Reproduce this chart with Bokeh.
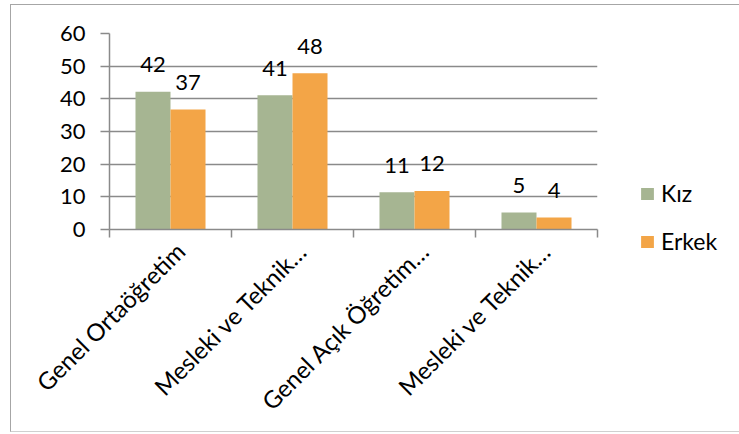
import numpy as np
from bokeh.plotting import figure
from bokeh.models import Range1d, FixedTicker, Legend, LegendItem, ColumnDataSource
from bokeh.core.properties import value
from bokeh.embed import file_html
from bokeh.resources import INLINE

categories = ["Genel Ortaöğretim", "Mesleki ve Teknik…", "Genel Açık Öğretim…", "Mesleki ve Teknik…"]
series_names = ["Kız", "Erkek"]
kiz = [42.2, 41.1, 11.4, 5.2]
erkek = [36.7, 47.8, 11.8, 3.7]
y_ticks = [0, 10, 20, 30, 40, 50, 60]

FONT = "Lato"
FS = "22px"
GREEN = "#A6B592"
ORANGE = "#F3A547"
GRID = "#8A8A8A"
BORDER = "#A6A6A6"

n = len(categories)
centers = np.arange(n) + 0.5
bw = 0.287
label_shift = 0.08  # small rightward nudge of the rotated category labels

p = figure(frame_width=488, frame_height=196, output_backend="svg", toolbar_location=None,
           x_range=Range1d(0, n), y_range=Range1d(0, 60),
           min_border_left=98, min_border_right=141, min_border_top=28, min_border_bottom=202)
p.outline_line_color = None
p.styles = {"margin-left": "10px", "margin-top": "4px",
            "border-left": f"1.5px solid {BORDER}", "border-top": f"1.5px solid {BORDER}",
            "border-bottom": "1.5px solid #D0D0D0"}

src_k = ColumnDataSource(dict(x=centers - bw / 2, top=kiz, lbl=[str(int(round(v))) for v in kiz]))
src_e = ColumnDataSource(dict(x=centers + bw / 2, top=erkek, lbl=[str(int(round(v))) for v in erkek]))

rk = p.vbar(x="x", top="top", width=bw, source=src_k, fill_color=GREEN, line_color=None)
re_ = p.vbar(x="x", top="top", width=bw, source=src_e, fill_color=ORANGE, line_color=None)

for src in (src_k, src_e):
    p.text(x="x", y="top", text="lbl", source=src, text_align="center", text_baseline="alphabetic",
           y_offset=-27, text_font=value(FONT), text_font_size=FS, text_color="black")

# axes
label_pos = [float(c + label_shift) for c in centers]
xa = p.xaxis[0]
xa.ticker = FixedTicker(ticks=label_pos, minor_ticks=list(range(n + 1)))
xa.major_label_overrides = {pos: lab for pos, lab in zip(label_pos, categories)}
xa.major_tick_out = 0
xa.major_tick_in = 0
xa.minor_tick_out = 8
xa.minor_tick_in = 0
xa.minor_tick_line_color = GRID
xa.minor_tick_line_width = 1.5
xa.axis_line_color = GRID
xa.axis_line_width = 1.5
xa.major_label_orientation = np.pi / 4
xa.major_label_text_font = FONT
xa.major_label_text_font_size = "24px"
xa.major_label_text_color = "black"
xa.major_label_standoff = 9

ya = p.yaxis[0]
ya.ticker = FixedTicker(ticks=y_ticks)
ya.major_tick_out = 9
ya.major_tick_in = 0
ya.major_tick_line_color = GRID
ya.major_tick_line_width = 1.5
ya.minor_tick_line_color = None
ya.axis_line_color = GRID
ya.axis_line_width = 1.5
ya.major_label_text_font = FONT
ya.major_label_text_font_size = FS
ya.major_label_text_color = "black"
ya.major_label_standoff = 15

p.xgrid.grid_line_color = None
p.ygrid.ticker = FixedTicker(ticks=y_ticks)
p.ygrid.grid_line_color = GRID
p.ygrid.grid_line_width = 1.5

legend = Legend(items=[LegendItem(label=series_names[0], renderers=[rk]),
                       LegendItem(label=series_names[1], renderers=[re_])],
                location=(42, -26), orientation="vertical")
legend.padding = 0
legend.margin = 0
legend.border_line_color = None
legend.background_fill_alpha = 0
legend.glyph_width = 16
legend.glyph_height = 15
legend.label_height = 15
legend.spacing = 20
legend.label_standoff = 6
legend.label_text_font = FONT
legend.label_text_font_size = "23px"
legend.label_text_color = "black"
p.add_layout(legend, "right")

open("out.html", "w").write(file_html(p, INLINE))
